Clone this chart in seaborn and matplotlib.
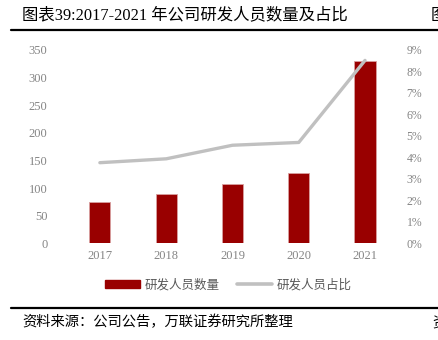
import matplotlib
matplotlib.use("Agg")
import matplotlib.pyplot as plt
import seaborn as sns
import pandas as pd
from matplotlib.lines import Line2D
from matplotlib.patches import Patch
from matplotlib.ticker import FuncFormatter

years = ["2017", "2018", "2019", "2020", "2021"]
staff = [75, 89, 107, 127, 329]
ratio = [0.0375, 0.0393, 0.0456, 0.0469, 0.085]
bar_label = "研发人员数量"
line_label = "研发人员占比"
title = "图表39:2017-2021 年公司研发人员数量及占比"
source = "资料来源：公司公告，万联证券研究所整理"

sns.set_theme(style="white")
plt.rcParams['font.family'] = ['Liberation Serif', 'Noto Sans CJK SC', 'DejaVu Sans']

df = pd.DataFrame({"year": years, "staff": staff, "ratio": ratio})

fig = plt.figure(figsize=(4.39, 3.40), dpi=100)
ax = fig.add_axes([0.152, 0.284, 0.755, 0.570])
bar_color = "#990000"
sns.barplot(data=df, x="year", y="staff", color=bar_color, width=0.32,
            saturation=1, edgecolor="#d9a0a0", linewidth=0.6, ax=ax)
ax.set_ylim(0, 350)
ax.set_yticks(range(0, 351, 50))
ax.set_xlim(-0.5, 4.5)
ax.set_xlabel("")
ax.set_ylabel("")
for s in ax.spines.values():
    s.set_visible(False)
tick_color = "#858585"
ax.tick_params(axis="y", length=0, pad=14, labelsize=9, labelcolor=tick_color)
ax.tick_params(axis="x", length=0, pad=5, labelsize=9, labelcolor=tick_color)
for lab in ax.get_yticklabels() + ax.get_xticklabels():
    lab.set_fontfamily("Liberation Serif")

ax2 = ax.twinx()
line_color = "#c0c0c0"
sns.lineplot(data=df, x="year", y="ratio", color=line_color, linewidth=2.4,
             ax=ax2, sort=False)
ax2.set_ylim(0, 0.09)
ax2.set_yticks([i / 100 for i in range(0, 10)])
ax2.yaxis.set_major_formatter(FuncFormatter(lambda v, p: f"{round(v*100)}%"))
ax2.set_ylabel("")
ax2.set_xlabel("")
for s in ax2.spines.values():
    s.set_visible(False)
ax2.tick_params(axis="y", length=0, pad=6, labelsize=8.5, labelcolor=tick_color)
ax2.set_xlim(-0.5, 4.5)
ax.set_zorder(1)
ax.patch.set_visible(False)
ax2.set_zorder(2)
ax2.patch.set_visible(False)

handles = [Patch(facecolor=bar_color, edgecolor=bar_color),
           Line2D([0], [0], color=line_color, linewidth=2.6)]
leg = fig.legend(handles, [bar_label, line_label], loc="center",
                 bbox_to_anchor=(0.52, 0.162), ncol=2, frameon=False,
                 handlelength=2.8, handleheight=0.6,
                 columnspacing=1.4, handletextpad=0.4,
                 prop={"family": ["Noto Sans CJK SC"], "size": 9})
for t in leg.get_texts():
    t.set_color("#595959")

# title and rules
fig.text(0.05, 0.955, title, fontsize=11.8, ha="left", va="center",
         family=["Liberation Serif", "Noto Sans CJK SC"], color="#000000")
fig.text(0.982, 0.955, "图", fontsize=11.8, ha="left", va="center",
         family=["Noto Sans CJK SC"], color="#000000")
fig.add_artist(Line2D([0.025, 1.0], [0.913, 0.913], color="black", linewidth=1.6,
                      transform=fig.transFigure))
fig.add_artist(Line2D([0.025, 1.0], [0.094, 0.094], color="black", linewidth=1.6,
                      transform=fig.transFigure))
fig.text(0.05, 0.052, source, fontsize=10.3, ha="left", va="center",
         family=["Noto Sans CJK SC"], style="italic", color="#000000")
fig.text(0.985, 0.052, "资", fontsize=10.3, ha="left", va="center",
         family=["Noto Sans CJK SC"], color="#000000")

fig.savefig("out.png", dpi=100)
